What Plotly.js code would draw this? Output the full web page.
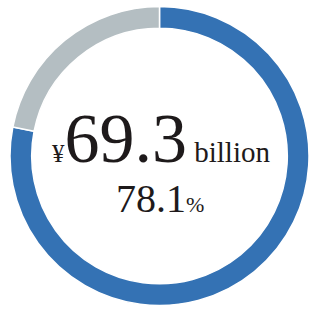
<!DOCTYPE html>
<html>
<head>
<meta charset="utf-8">
<script src="https://cdn.plot.ly/plotly-3.0.1.min.js"></script>
<style>html,body{margin:0;padding:0;background:#fff;}#chart{width:309px;height:309px;}</style>
</head>
<body>
<div id="chart"></div>
<script>
var labels = ['Segment', 'Other'];
var values = [78.1, 21.9];
var colors = ['#3472b4', '#b4bec2'];
var amountText = '69.3';
var currencyText = '¥';
var unitText = 'billion';
var shareText = '78.1';
var shareUnit = '%';

var serif = '"Liberation Serif", "Times New Roman", serif';

var trace = {
  type: 'pie',
  labels: labels,
  values: values,
  hole: 0.855,
  sort: false,
  direction: 'clockwise',
  rotation: 0,
  textinfo: 'none',
  hoverinfo: 'label+percent',
  marker: {colors: colors, line: {color: '#ffffff', width: 1.5}},
  domain: {x: [10/309, 1], y: [3/309, 303/309]},
  showlegend: false
};

var layout = {
  width: 309,
  height: 309,
  margin: {l: 0, r: 0, t: 0, b: 0},
  paper_bgcolor: '#ffffff',
  plot_bgcolor: '#ffffff',
  showlegend: false,
  annotations: [
    {
      xref: 'paper', yref: 'paper', x: 161/309, y: 1 - 138/309,
      xanchor: 'center', yanchor: 'middle', showarrow: false,
      text: '<span style="font-size:25px">' + currencyText + '</span>' + amountText + '<span style="font-size:29px"> ' + unitText + '</span>',
      font: {family: serif, size: 70, color: '#1e1a1b'}
    },
    {
      xref: 'paper', yref: 'paper', x: 160/309, y: 1 - 198/309,
      xanchor: 'center', yanchor: 'middle', showarrow: false,
      text: shareText + '<span style="font-size:22px">' + shareUnit + '</span>',
      font: {family: serif, size: 40, color: '#1e1a1b'}
    }
  ]
};

Plotly.newPlot('chart', [trace], layout, {displayModeBar: false, staticPlot: true});
</script>
</body>
</html>
